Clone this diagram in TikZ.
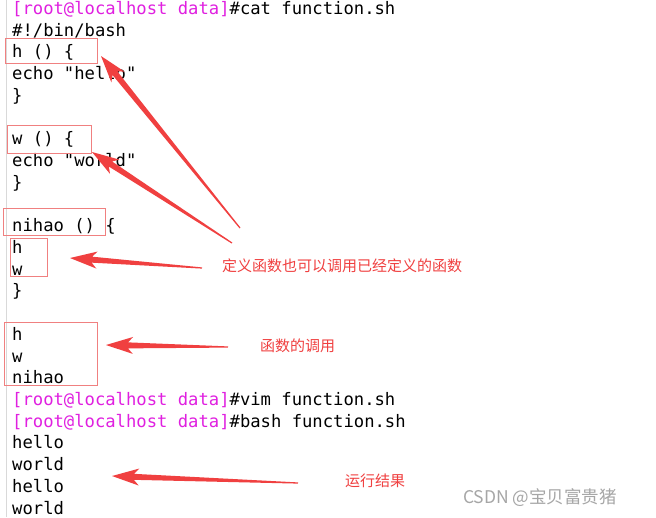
\documentclass[tikz,border=0pt]{standalone}
\usepackage{fontspec}
\setmonofont{DejaVu Sans Mono}
\newfontfamily\cjk{Noto Sans CJK SC}
\usetikzlibrary{calc}
\definecolor{prm}{HTML}{E020E0}
\definecolor{arrred}{HTML}{F04040}
\definecolor{boxred}{HTML}{F08080}
\newcommand\fatarr[2]{\fill[arrred] let \p1=($(#2)-(#1)$), \n1={atan2(\y1,\x1)}, \n2={veclen(\x1,\y1)} in [shift={(#1)}, rotate=\n1] (0,-0.6) -- (\n2-22,-3) -- (\n2-27,-8.5) -- (\n2,0) -- (\n2-27,8.5) -- (\n2-22,3) -- (0,0.6) -- cycle;}
\begin{document}
\begin{tikzpicture}[x=1pt,y=-1pt,
  code/.style={anchor=base west,inner sep=0,font=\ttfamily\fontsize{17.2}{20}\selectfont},
  lab/.style={anchor=base west,inner sep=0,text=arrred,font=\cjk\fontsize{15}{18}\selectfont},
  hb/.style={draw=boxred,line width=0.8pt}]
\useasboundingbox[fill=white] (0,0) rectangle (656,517);
\draw[gray!30,line width=1pt] (6,0) -- (6,517);
\foreach \i/\t in {1/{\#!/bin/bash},2/{h () \{},3/{echo "hello"},4/{\}},6/{w () \{},7/{echo "world"},8/{\}},10/{nihao () \{},11/{h},12/{w},13/{\}},15/{h},16/{w},17/{nihao},20/{hello},21/{world},22/{hello},23/{world}}
  \node[code] (l\i) at (12,{14.5+21.72*\i}) {\t};
\node[code] (p0) at (12,14.5) {\textcolor{prm}{[root@localhost data]}\#cat function.sh};
\node[code] (p18) at (12,{14.5+21.72*18}) {\textcolor{prm}{[root@localhost data]}\#vim function.sh};
\node[code] (p19) at (12,{14.5+21.72*19}) {\textcolor{prm}{[root@localhost data]}\#bash function.sh};
\draw[hb] (5,38) rectangle (97,63);
\draw[hb] (7,125) rectangle (91,153);
\draw[hb] (3,208) rectangle (105,235);
\draw[hb] (10,238) rectangle (47,276);
\draw[hb] (4,322) rectangle (97,385);
\coordinate (t1) at (240,228); \coordinate (h1) at (101,56);
\coordinate (t2) at (232,243); \coordinate (h2) at (92,152);
\coordinate (t3) at (202,268); \coordinate (h3) at (70,258);
\coordinate (t4) at (228,347); \coordinate (h4) at (106,345);
\coordinate (t5) at (298,483); \coordinate (h5) at (112,476);
\fatarr{t1}{h1}\fatarr{t2}{h2}\fatarr{t3}{h3}\fatarr{t4}{h4}\fatarr{t5}{h5}
\node[lab] (a) at (222,271) {定义函数也可以调用已经定义的函数};
\node[lab] (b) at (260,351) {函数的调用};
\node[lab] (c) at (345,486) {运行结果};
\node[anchor=base west,inner sep=0,text=gray!70,font=\cjk\fontsize{17.5}{18}\selectfont] (w) at (463,503) {CSDN @宝贝富贵猪};
\end{tikzpicture}
\end{document}
